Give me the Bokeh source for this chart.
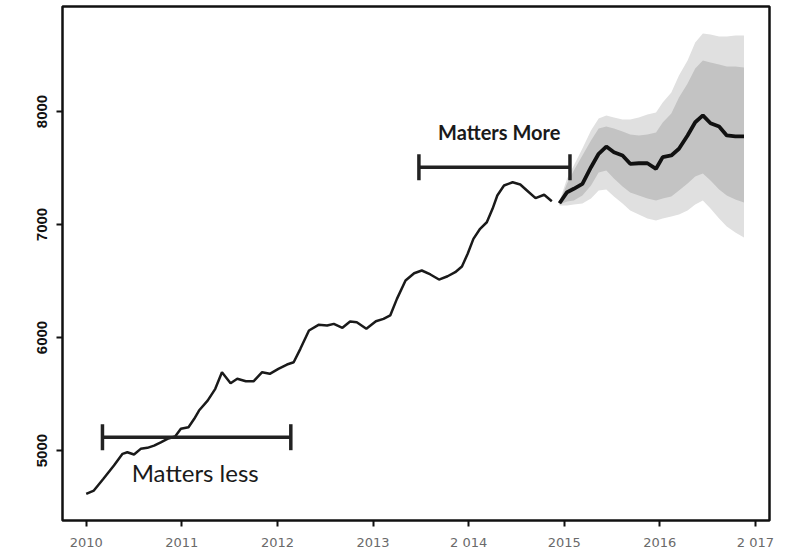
from bokeh.plotting import figure
from bokeh.models import Range1d, FixedTicker
from bokeh.core.properties import value
from bokeh.embed import file_html
from bokeh.resources import INLINE

# Observed series (decimal year, level)
hist_t = [2010.00, 2010.08, 2010.18, 2010.29, 2010.38, 2010.43, 2010.50, 2010.57, 2010.64, 2010.71,
          2010.78, 2010.85, 2010.93, 2010.99, 2011.07, 2011.13, 2011.18, 2011.27, 2011.35, 2011.42,
          2011.51, 2011.58, 2011.67, 2011.75, 2011.84, 2011.92, 2012.01, 2012.10, 2012.17, 2012.24,
          2012.33, 2012.43, 2012.52, 2012.59, 2012.68, 2012.76, 2012.83, 2012.93, 2013.03, 2013.11,
          2013.18, 2013.25, 2013.34, 2013.43, 2013.51, 2013.60, 2013.69, 2013.78, 2013.86, 2013.93,
          2013.99, 2014.05, 2014.12, 2014.19, 2014.25, 2014.30, 2014.37, 2014.46, 2014.54, 2014.61,
          2014.70, 2014.79, 2014.87]
hist_v = [4617, 4646, 4750, 4867, 4971, 4985, 4965, 5015, 5024, 5044,
          5073, 5104, 5124, 5192, 5206, 5281, 5354, 5442, 5546, 5693,
          5596, 5635, 5613, 5613, 5693, 5679, 5723, 5761, 5781, 5900,
          6062, 6112, 6106, 6121, 6086, 6142, 6135, 6077, 6144, 6165,
          6195, 6342, 6504, 6569, 6593, 6558, 6513, 6542, 6578, 6628,
          6741, 6873, 6962, 7020, 7139, 7257, 7345, 7374, 7354, 7301,
          7233, 7263, 7206]

# Forecast: point forecast with 80% and 95% intervals
fc_t = [2014.95, 2015.03, 2015.10, 2015.19, 2015.28, 2015.36, 2015.44, 2015.52, 2015.61, 2015.69,
        2015.78, 2015.87, 2015.96, 2016.03, 2016.12, 2016.20, 2016.29, 2016.37, 2016.45, 2016.53,
        2016.62, 2016.70, 2016.79, 2016.88]
fc_mean = [7188, 7286, 7316, 7360, 7507, 7626, 7690, 7640, 7611, 7537, 7542, 7542, 7493, 7596,
           7611, 7670, 7788, 7905, 7965, 7896, 7867, 7788, 7779, 7779]
hi80 = [7195, 7363, 7478, 7611, 7744, 7850, 7867, 7850, 7823, 7797, 7788, 7797, 7814, 7903,
        7982, 8124, 8248, 8381, 8452, 8434, 8416, 8398, 8398, 8389]
lo80 = [7177, 7204, 7213, 7257, 7345, 7460, 7478, 7407, 7336, 7283, 7257, 7230, 7213, 7230,
        7248, 7301, 7363, 7425, 7451, 7390, 7310, 7257, 7221, 7195]
hi95 = [7204, 7407, 7522, 7673, 7832, 7938, 7965, 7947, 7929, 7929, 7947, 7974, 7991, 8080,
        8168, 8319, 8452, 8611, 8690, 8682, 8664, 8664, 8673, 8673]
lo95 = [7168, 7168, 7177, 7186, 7230, 7301, 7310, 7248, 7186, 7124, 7089, 7053, 7036, 7053,
        7071, 7089, 7124, 7177, 7213, 7142, 7053, 6982, 6929, 6885]

# Axis ticks
year_ticks = [2010, 2011, 2012, 2013, 2014, 2015, 2016, 2017]
year_labels = ["2010", "2011", "2012", "2013", "2 014", "2015", "2016", "2 017"]
level_ticks = [5000, 6000, 7000, 8000]

# Annotated spans
span_less = (2010.17, 2012.14, 5118)
span_more = (2013.48, 2015.06, 7507)
cap_half = 115

p = figure(width=785, height=554, output_backend="svg", toolbar_location=None,
           x_range=Range1d(2009.752, 2017.147), y_range=Range1d(4381, 8929),
           min_border_left=62, min_border_right=16, min_border_top=6, min_border_bottom=34)
p.background_fill_color = "white"
p.border_fill_color = "white"
p.outline_line_color = "#111111"
p.outline_line_width = 2.5
p.xgrid.visible = False
p.ygrid.visible = False

p.xaxis.ticker = FixedTicker(ticks=year_ticks)
p.xaxis.major_label_overrides = {t: s for t, s in zip(year_ticks, year_labels)}
p.xaxis.major_label_text_font = "DejaVu Sans"
p.xaxis.major_label_text_font_size = "13px"
p.xaxis.major_label_text_color = "#6a6a6a"
p.xaxis.major_label_standoff = 8

p.yaxis.ticker = FixedTicker(ticks=level_ticks)
p.yaxis.major_label_orientation = "vertical"
p.yaxis.major_label_text_font = "Liberation Sans"
p.yaxis.major_label_text_font_style = "bold"
p.yaxis.major_label_text_font_size = "15px"
p.yaxis.major_label_text_color = "#111111"
p.yaxis.major_label_standoff = 9

for ax in (p.xaxis, p.yaxis):
    ax.axis_line_color = None
    ax.major_tick_line_color = "#111111"
    ax.major_tick_line_width = 2
    ax.major_tick_out = 6
    ax.major_tick_in = 0
    ax.minor_tick_line_color = None

# Prediction intervals
p.varea(x=fc_t, y1=lo95, y2=hi95, fill_color="#e0e0e0")
p.varea(x=fc_t, y1=lo80, y2=hi80, fill_color="#c3c3c3")

# Observed and forecast lines
p.line(hist_t, hist_v, line_color="#1a1a1a", line_width=2.5)
p.line(fc_t, fc_mean, line_color="#111111", line_width=3.8)

# Span markers with end caps
for x0, x1, y in (span_less, span_more):
    p.segment(x0=[x0], y0=[y], x1=[x1], y1=[y], line_color="#222222", line_width=3.5)
    p.segment(x0=[x0, x1], y0=[y - cap_half] * 2, x1=[x0, x1], y1=[y + cap_half] * 2,
              line_color="#222222", line_width=3.5)

p.text(x=[2011.14], y=[4808], text=["Matters less"], text_font=value("Lato"),
       text_font_size="24px", text_align="center", text_baseline="middle", text_color="#1a1a1a")
p.text(x=[2014.32], y=[7817], text=["Matters More"], text_font=value("Lato"),
       text_font_size="20px", text_font_style="bold", text_align="center",
       text_baseline="middle", text_color="#1a1a1a")

open("out.html", "w").write(file_html(p, INLINE))
